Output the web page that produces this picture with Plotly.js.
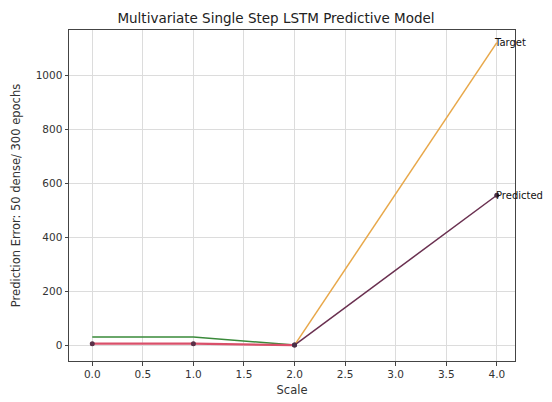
<!DOCTYPE html>
<html>
<head>
<meta charset="utf-8">
<script src="https://cdn.plot.ly/plotly-3.0.1.min.js"></script>
<style>html,body{margin:0;padding:0;background:#fff;}#chart{width:552px;height:402px;}</style>
</head>
<body>
<div id="chart"></div>
<script>
// Data
const scaleEarly = [0, 1, 2];
const scaleLate = [2, 4];
const greenVals = [30, 30, 0];
const redVals = [5, 5, 0];
const targetVals = [0, 1120];
const predictedVals = [0, 555];
const xTicks = [0, 0.5, 1, 1.5, 2, 2.5, 3, 3.5, 4];
const xTickText = ['0.0','0.5','1.0','1.5','2.0','2.5','3.0','3.5','4.0'];
const yTicks = [0, 200, 400, 600, 800, 1000];

const traces = [
  {x: scaleEarly, y: greenVals, mode: 'lines', line: {color: '#3a8a3a', width: 1.5}, showlegend: false},
  {x: scaleLate, y: targetVals, mode: 'lines', line: {color: '#e8a84a', width: 1.5}, showlegend: false},
  {x: scaleEarly, y: redVals, mode: 'lines+markers', line: {color: '#d9506a', width: 2.2},
   marker: {color: '#5a3048', size: 5}, showlegend: false},
  {x: scaleLate, y: predictedVals, mode: 'lines+markers', line: {color: '#6a3050', width: 1.5},
   marker: {color: '#4a3048', size: 5}, showlegend: false}
];

const layout = {
  width: 552, height: 402,
  margin: {l: 69, r: 37, t: 30, b: 41},
  paper_bgcolor: '#fff', plot_bgcolor: '#fff',
  font: {family: 'DejaVu Sans, sans-serif', size: 10.5, color: '#333'},
  title: {text: 'Multivariate Single Step LSTM Predictive Model', font: {size: 13.5, color: '#222'},
          x: 0.5, xanchor: 'center', y: 0.955, yanchor: 'middle'},
  xaxis: {
    range: [-0.23, 4.18], tickvals: xTicks, ticktext: xTickText,
    showgrid: true, gridcolor: '#dcdcdc', gridwidth: 1,
    zeroline: false, showline: true, linecolor: '#444', linewidth: 1, mirror: true,
    ticks: 'outside', ticklen: 3.5, tickcolor: '#444',
    title: {text: 'Scale', font: {size: 11.5, color: '#333'}, standoff: 6}
  },
  yaxis: {
    range: [-59, 1167], tickvals: yTicks,
    showgrid: true, gridcolor: '#dcdcdc', gridwidth: 1,
    zeroline: false, showline: true, linecolor: '#444', linewidth: 1, mirror: true,
    ticks: 'outside', ticklen: 3.5, tickcolor: '#444',
    title: {text: 'Prediction Error: 50 dense/ 300 epochs', font: {size: 11.5, color: '#333'}, standoff: 12}
  },
  annotations: [
    {x: 4, y: targetVals[1], text: 'Target', showarrow: false, xanchor: 'left', yanchor: 'middle', xshift: -5, font: {size: 10, color: '#111'}},
    {x: 4, y: predictedVals[1], text: 'Predicted', showarrow: false, xanchor: 'left', yanchor: 'middle', xshift: -3, font: {size: 10, color: '#111'}}
  ]
};

Plotly.newPlot('chart', traces, layout, {displayModeBar: false, staticPlot: true});
</script>
</body>
</html>
